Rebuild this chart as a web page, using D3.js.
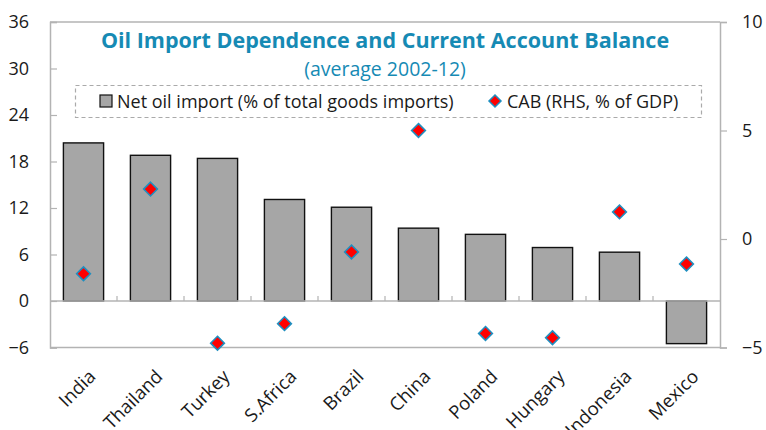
<!DOCTYPE html>
<html>
<head>
<meta charset="utf-8">
<script src="https://cdn.jsdelivr.net/npm/d3@7"></script>
<style>
  html, body { margin: 0; padding: 0; background: #fff; }
  svg { display: block; font-family: "Open Sans", "Noto Sans", sans-serif; }
</style>
</head>
<body>
<svg id="chart" width="766" height="430"></svg>
<script>
// Countries, ordered by oil import dependence
const countries = ["India", "Thailand", "Turkey", "S.Africa", "Brazil", "China", "Poland", "Hungary", "Indonesia", "Mexico"];
// Net oil imports, % of total goods imports (left axis)
const netOilImport = [20.4, 18.8, 18.4, 13.1, 12.1, 9.4, 8.6, 6.9, 6.3, -5.5];
// Current account balance, % of GDP (right axis)
const cab = [-1.6, 2.3, -4.8, -3.9, -0.6, 5.0, -4.35, -4.55, 1.25, -1.15];
// Axis ticks
const leftTicks = [-6, 0, 6, 12, 18, 24, 30, 36];
const rightTicks = [-5, 0, 5, 10];

const svg = d3.select("#chart");
const m = { left: 50, right: 720, top: 22, bottom: 347.5 };
const axisGray = "#b3b3b3";
const textColor = "#1a1a1a";
const titleColor = "#168ab4";

const x = d3.scaleBand().domain(countries).range([m.left, m.right]).paddingInner(0.4).paddingOuter(0.2);
const yL = d3.scaleLinear().domain([-6, 36]).range([m.bottom, m.top]);
const yR = d3.scaleLinear().domain([-5, 10]).range([m.bottom, m.top]);

// Plot frame: top and bottom edges
svg.append("line").attr("x1", m.left).attr("x2", m.right).attr("y1", m.top).attr("y2", m.top)
  .attr("stroke", axisGray).attr("stroke-width", 1.5);
svg.append("line").attr("x1", m.left).attr("x2", m.right).attr("y1", m.bottom).attr("y2", m.bottom)
  .attr("stroke", axisGray).attr("stroke-width", 1.5);

// Bars
svg.append("g").selectAll("rect").data(countries).join("rect")
  .attr("x", d => x(d))
  .attr("width", x.bandwidth())
  .attr("y", (d, i) => yL(Math.max(0, netOilImport[i])))
  .attr("height", (d, i) => Math.abs(yL(netOilImport[i]) - yL(0)))
  .attr("fill", "#a6a6a6")
  .attr("stroke", "#111")
  .attr("stroke-width", 1.4);

// Left axis (ticks drawn inward)
const gL = svg.append("g").attr("transform", `translate(${m.left},0)`)
  .call(d3.axisLeft(yL).tickValues(leftTicks).tickSize(-7).tickPadding(21));
gL.select(".domain").attr("stroke", axisGray).attr("stroke-width", 1.5);
gL.selectAll(".tick line").attr("stroke", axisGray).attr("stroke-width", 1.2);
gL.selectAll(".tick text").attr("fill", textColor).attr("font-size", 18).attr("font-family", "Open Sans");

// Right axis (ticks drawn outward)
const gR = svg.append("g").attr("transform", `translate(${m.right},0)`)
  .call(d3.axisRight(yR).tickValues(rightTicks).tickSize(7).tickPadding(15));
gR.select(".domain").attr("stroke", axisGray).attr("stroke-width", 1.5);
gR.selectAll(".tick line").attr("stroke", axisGray).attr("stroke-width", 1.2);
gR.selectAll(".tick text").attr("fill", textColor).attr("font-size", 18).attr("font-family", "Open Sans");

// Category axis on the zero line, with short boundary ticks
const zeroY = yL(0);
svg.append("line").attr("x1", m.left).attr("x2", m.right).attr("y1", zeroY).attr("y2", zeroY)
  .attr("stroke", axisGray).attr("stroke-width", 1.5);
const step = x.step();
const boundaries = countries.slice(1).map(d => x(d) - x.paddingInner() * step / 2);
svg.append("g").selectAll("line").data(boundaries).join("line")
  .attr("x1", d => d).attr("x2", d => d)
  .attr("y1", zeroY).attr("y2", zeroY - 5)
  .attr("stroke", axisGray).attr("stroke-width", 1.2);

// Category labels, rotated
svg.append("g").selectAll("text").data(countries).join("text")
  .attr("transform", d => `translate(${x(d) + x.bandwidth() / 2 + 4},${m.bottom + 21}) rotate(-45)`)
  .attr("text-anchor", "end")
  .attr("dy", "0.71em")
  .attr("font-size", 18.5)
  .attr("fill", textColor)
  .text(d => d);

// CAB markers
const diamond = d3.symbol().type(d3.symbolDiamond2).size(120);
svg.append("g").selectAll("path").data(countries).join("path")
  .attr("d", diamond)
  .attr("transform", (d, i) => `translate(${x(d) + x.bandwidth() / 2},${yR(cab[i])})`)
  .attr("fill", "#ff0000")
  .attr("stroke", "#1f8fc0")
  .attr("stroke-width", 1.6);

// Title
svg.append("text").attr("x", 385).attr("y", 48).attr("text-anchor", "middle")
  .attr("font-size", 21.5).attr("font-weight", "bold").attr("fill", titleColor)
  .text("Oil Import Dependence and Current Account Balance");
svg.append("text").attr("x", 385).attr("y", 76).attr("text-anchor", "middle")
  .attr("font-size", 19.5).attr("fill", titleColor)
  .text("(average 2002-12)");

// Legend
const lg = svg.append("g");
lg.append("rect").attr("x", 75.5).attr("y", 85.5).attr("width", 626).attr("height", 32)
  .attr("fill", "#fff").attr("stroke", "#aaa").attr("stroke-dasharray", "4,3").attr("stroke-width", 1.2);
lg.append("rect").attr("x", 100).attr("y", 95).attr("width", 12).attr("height", 12)
  .attr("fill", "#a6a6a6").attr("stroke", "#111").attr("stroke-width", 1.2);
lg.append("text").attr("x", 117).attr("y", 108).attr("font-size", 18).attr("fill", textColor)
  .text("Net oil import (% of total goods imports)");
lg.append("path").attr("d", d3.symbol().type(d3.symbolDiamond2).size(92))
  .attr("transform", "translate(495,101)")
  .attr("fill", "#ff0000").attr("stroke", "#1f8fc0").attr("stroke-width", 1.5);
lg.append("text").attr("x", 507).attr("y", 108).attr("font-size", 18).attr("fill", textColor)
  .text("CAB (RHS, % of GDP)");
</script>
</body>
</html>
